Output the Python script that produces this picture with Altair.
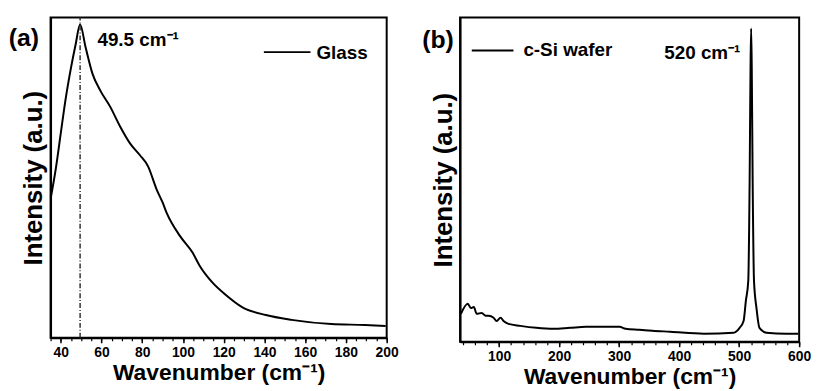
import altair as alt
import pandas as pd

# ---- Panel (a): glass Raman spectrum ----
glass_x = [35.1, 37.6, 40.0, 42.4, 44.9, 47.3, 49.5, 52.2, 55.6, 59.5, 64.3, 69.2, 74.0,
           78.9, 82.8, 87.2, 90.1, 92.0, 98.4, 104.7, 108.1, 114.4, 121.2, 129.0, 140.7,
           153.3, 172.8, 189.3, 199.5]
glass_y = [43.7, 52.9, 63.8, 74.6, 83.9, 91.6, 97.8, 90.7, 82.4, 77.1, 72.1, 65.9, 60.7,
           57.0, 53.6, 46.1, 42.1, 39.0, 31.9, 26.6, 22.6, 17.3, 13.3, 9.6, 7.1,
           5.6, 4.3, 4.0, 3.7]

# ---- Panel (b): c-Si wafer Raman spectrum ----
si_x = [36.4, 47.9, 52.9, 57.9, 62.8, 71.1, 77.7, 82.6, 90.9, 95.9, 102.5, 107.4, 115.7,
        135.5, 162.0, 190.1, 218.2, 244.6, 272.7, 300.8, 310.7, 333.9, 355.4, 385.1,
        441.3, 490.9, 500.8, 507.4, 511.2, 515.2, 517.5, 519.0, 520.0, 521.0, 522.5,
        524.8, 528.9, 533.9, 545.5, 578.5, 598.3]
si_y = [8.6, 11.7, 10.4, 10.7, 8.6, 8.9, 8.0, 8.0, 7.4, 6.4, 7.4, 6.4, 5.5,
        4.9, 4.3, 4.0, 4.3, 4.6, 4.6, 4.6, 4.0, 3.7, 3.4, 3.1,
        2.5, 2.8, 4.3, 6.4, 12.6, 18.7, 50.0, 85.0, 96.6, 85.0, 50.0,
        18.7, 10.4, 4.3, 2.8, 2.5, 2.5]

a_major = [40, 60, 80, 100, 120, 140, 160, 180, 200]
a_minor = list(range(35, 201, 5))
b_major = [100, 200, 300, 400, 500, 600]
b_minor = list(range(40, 601, 20))

a_texts = ["(a)", "49.5 cm⁻¹", "Glass"]
a_text_x = [14.5, 58.0, 165.5]
a_text_y = [93.6, 92.9, 89.0]
a_text_size = [25, 19, 19]
a_leg_x = [139.7]
a_leg_x2 = [162.6]
a_leg_y = [89.2]
a_peak = [49.5]

b_texts = ["(b)", "c-Si wafer", "520 cm⁻¹"]
b_text_x = [-28.0, 140.5, 375.2]
b_text_y = [93.1, 89.9, 89.0]
b_text_size = [25, 19, 19]
b_leg_x = [54.5]
b_leg_x2 = [124.0]
b_leg_y = [89.8]

FONT = "Liberation Sans"
XTITLE = "Wavenumber (cm⁻¹)"
YTITLE = "Intensity (a.u.)"


def major_axis(vals):
    return alt.Axis(values=vals, orient="bottom", title=XTITLE, grid=False,
                    labelFont=FONT, labelFontWeight="bold", labelFontSize=14,
                    labelColor="black", labelPadding=3, labelFlush=False,
                    titleFont=FONT, titleFontWeight="bold", titleFontSize=23,
                    titleColor="black", titlePadding=2,
                    tickSize=5, tickWidth=1.5, tickColor="black",
                    domainColor="black", domainWidth=2)


def minor_axis(vals):
    return alt.Axis(values=vals, orient="bottom", title=None, grid=False,
                    labels=False, domain=False, tickSize=3, tickWidth=1.2,
                    tickColor="black")


y_axis = alt.Axis(title=YTITLE, labels=False, ticks=False, grid=False,
                  titleFont=FONT, titleFontWeight="bold", titleFontSize=26,
                  titleColor="black", titlePadding=4,
                  domainColor="black", domainWidth=2)


def panel(x, y, xdom, major, minor, texts, tx, ty, tsize, lx, lx2, ly, w, h, peak=None):
    xs = alt.Scale(domain=xdom, nice=False, zero=False)
    ys = alt.Scale(domain=[0, 100], nice=False, zero=False)
    df = pd.DataFrame({"w": x, "i": y})
    line = alt.Chart(df).mark_line(color="black", strokeWidth=2, interpolate="monotone").encode(
        x=alt.X("w:Q", scale=xs, axis=major_axis(major)),
        y=alt.Y("i:Q", scale=ys, axis=y_axis),
    )
    mnr = alt.Chart(df).mark_line(strokeOpacity=0).encode(
        x=alt.X("w:Q", scale=xs, axis=minor_axis(minor)),
        y=alt.Y("i:Q", scale=ys, axis=None),
    )
    layers = [line, mnr]
    if peak is not None:
        pdf = pd.DataFrame({"p": peak, "lo": [0] * len(peak), "hi": [100] * len(peak)})
        rule = alt.Chart(pdf).mark_rule(color="#333333", strokeWidth=1.5,
                                         strokeDash=[5, 2, 1, 2]).encode(
            x=alt.X("p:Q", scale=xs, axis=None),
            y=alt.Y("lo:Q", scale=ys, axis=None),
            y2="hi:Q",
        )
        layers.append(rule)
    ldf = pd.DataFrame({"x": lx, "x2": lx2, "y": ly})
    leg = alt.Chart(ldf).mark_rule(color="black", strokeWidth=2).encode(
        x=alt.X("x:Q", scale=xs, axis=None),
        x2="x2:Q",
        y=alt.Y("y:Q", scale=ys, axis=None),
    )
    layers.append(leg)
    tdf = pd.DataFrame({"t": texts, "x": tx, "y": ty, "s": tsize})
    for i in range(len(texts)):
        txt = alt.Chart(tdf.iloc[[i]]).mark_text(
            align="left", baseline="middle", font=FONT, fontWeight="bold",
            fontSize=int(tsize[i]), color="black", clip=False
        ).encode(
            x=alt.X("x:Q", scale=xs, axis=None),
            y=alt.Y("y:Q", scale=ys, axis=None),
            text="t:N",
        )
        layers.append(txt)
    return alt.layer(*layers).resolve_axis(x="independent", y="independent").properties(
        width=w, height=h)


pa = panel(glass_x, glass_y, [35, 200], a_major, a_minor, a_texts, a_text_x, a_text_y,
           a_text_size, a_leg_x, a_leg_x2, a_leg_y, 339, 323, peak=a_peak)
pb = panel(si_x, si_y, [35, 600], b_major, b_minor, b_texts, b_text_x, b_text_y,
           b_text_size, b_leg_x, b_leg_x2, b_leg_y, 342, 327)

chart = alt.hconcat(pa, pb, spacing=21).properties(
    padding={"left": 7, "top": 14, "right": 5, "bottom": 2},
    background="white",
).configure_view(stroke="black", strokeWidth=2)

chart.save("out.html", embed_options={"renderer": "svg", "actions": False})
